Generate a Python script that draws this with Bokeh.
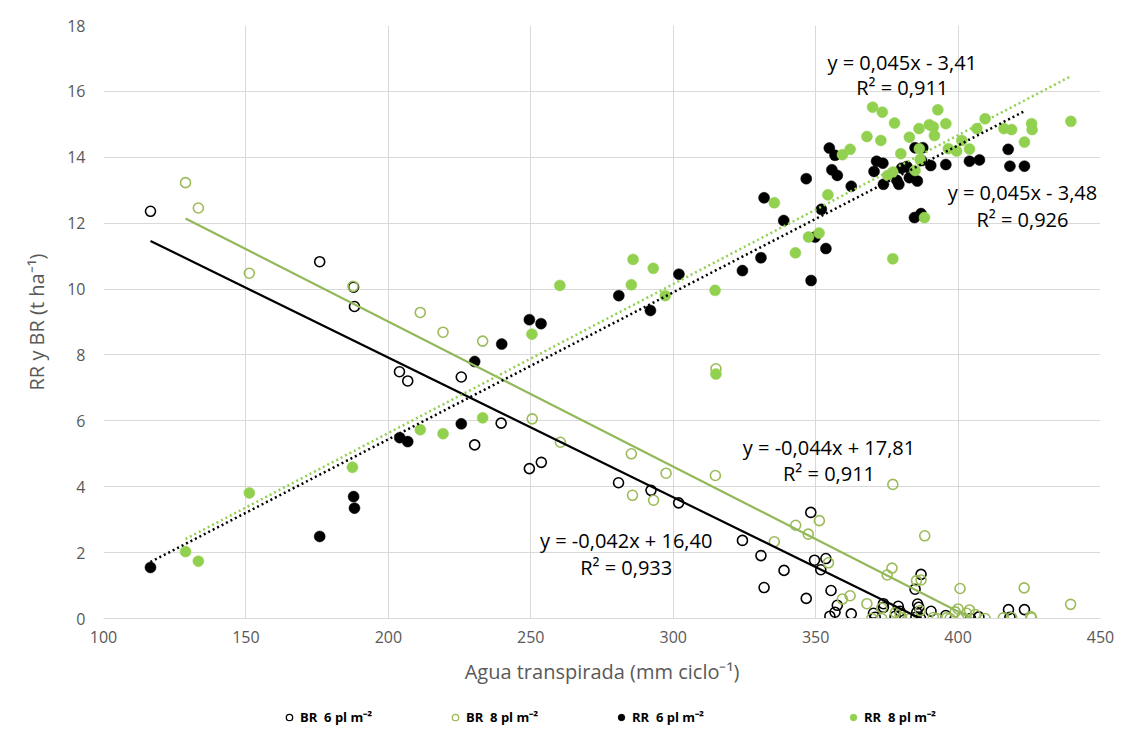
import numpy as np
from bokeh.plotting import figure
from bokeh.layouts import column
from bokeh.models import FixedTicker, Label, Legend, LegendItem, Range1d
from bokeh.embed import file_html
from bokeh.resources import INLINE

# ---------------- data ----------------
br6_x = [116.5, 175.9, 187.8, 188.1, 203.9, 206.8, 225.6, 230.3, 239.6, 249.5, 253.7, 280.8, 292.2, 301.9,
         324.3, 330.8, 331.9, 338.9, 346.7, 348.3, 349.6, 351.8, 353.6, 355.4, 357.6, 356.8, 355.0, 362.5,
         370.3, 370.9, 373.8, 373.8, 377.9, 379.0, 379.6, 384.9, 387.0, 385.8, 386.2, 385.5, 385.2, 386.8,
         390.5, 395.7, 404.4, 407.3, 417.7, 423.3, 418.2]
br6_y = [12.36, 10.83, 10.06, 9.47, 7.49, 7.21, 7.33, 5.27, 5.93, 4.55, 4.74, 4.12, 3.89, 3.51,
         2.37, 1.91, 0.94, 1.46, 0.61, 3.22, 1.77, 1.48, 1.82, 0.85, 0.40, 0.19, 0.07, 0.14,
         0.16, 0.04, 0.45, 0.34, 0.07, 0.37, 0.22, 0.89, 1.34, 0.44, 0.34, 0.19, 0.04, 0.00,
         0.22, 0.09, 0.00, 0.05, 0.27, 0.27, 0.04]

br8_x = [128.8, 133.3, 151.2, 187.6, 211.2, 219.2, 233.1, 250.5, 260.4, 285.3, 297.5, 314.8, 285.7, 293.1,
         315.0, 335.5, 343.0, 347.4, 351.3, 354.5, 377.1, 388.3, 376.8, 375.1, 385.4, 387.0, 400.7, 423.2,
         439.5, 362.1, 359.4, 368.0, 373.2, 378.0, 379.6, 386.7, 400.0, 404.0, 399.0, 403.0, 406.0, 369.7,
         373.2, 380.2, 383.2, 391.3, 392.5, 396.0, 397.2, 401.3, 409.5, 415.9, 418.8, 425.8, 425.5]
br8_y = [13.23, 12.46, 10.48, 10.08, 9.29, 8.69, 8.42, 6.06, 5.35, 5.00, 4.41, 4.34, 3.74, 3.59,
         7.58, 2.33, 2.83, 2.56, 2.97, 1.69, 4.07, 2.51, 1.53, 1.32, 1.15, 1.17, 0.91, 0.93,
         0.43, 0.69, 0.59, 0.45, 0.32, 0.18, 0.14, 0.24, 0.29, 0.26, 0.20, 0.16, 0.12, 0.00,
         0.00, 0.02, 0.00, 0.03, 0.00, 0.02, 0.00, 0.03, 0.00, 0.02, 0.03, 0.02, 0.06]

rr6_x = [116.5, 175.9, 187.8, 188.1, 204.0, 206.8, 225.6, 230.3, 239.8, 249.5, 253.6, 280.9, 292.0, 302.0,
         324.3, 330.8, 338.8, 331.9, 346.7, 348.4, 349.8, 353.6, 352.0, 354.8, 356.8, 355.7, 357.6, 362.5,
         370.5, 371.4, 373.6, 373.8, 378.5, 379.2, 380.2, 382.0, 384.9, 387.6, 382.9, 385.7, 387.2, 390.4,
         395.7, 404.0, 407.5, 384.7, 387.0, 417.6, 418.2, 423.3]
rr6_y = [1.55, 2.49, 3.70, 3.35, 5.49, 5.37, 5.91, 7.80, 8.33, 9.07, 8.95, 9.80, 9.35, 10.45,
         10.56, 10.95, 12.08, 12.77, 13.35, 10.26, 11.58, 11.23, 12.42, 14.28, 14.06, 13.62, 13.45, 13.12,
         13.57, 13.88, 13.82, 13.18, 13.30, 13.18, 13.67, 13.72, 14.29, 14.29, 13.38, 13.28, 13.90, 13.75,
         13.78, 13.88, 13.92, 12.17, 12.29, 14.24, 13.73, 13.73]

rr8_x = [128.8, 133.3, 151.2, 187.4, 211.2, 219.2, 233.1, 250.4, 260.2, 285.9, 285.3, 293.0, 297.2, 314.7,
         315.0, 335.5, 342.9, 347.5, 351.2, 354.3, 359.4, 362.1, 368.0, 370.0, 373.4, 372.9, 377.7, 379.9,
         382.9, 386.3, 389.9, 391.3, 392.9, 391.7, 395.7, 386.7, 386.4, 384.9, 375.3, 377.1, 388.2, 377.1,
         396.6, 399.5, 401.3, 404.0, 406.6, 409.5, 416.1, 418.8, 425.8, 426.0, 423.3, 439.6]
rr8_y = [2.03, 1.74, 3.81, 4.59, 5.73, 5.61, 6.09, 8.63, 10.11, 10.90, 10.13, 10.63, 9.80, 9.96,
         7.42, 12.62, 11.10, 11.58, 11.70, 12.86, 14.08, 14.24, 14.63, 15.52, 15.37, 14.51, 15.04, 14.11,
         14.61, 14.87, 14.99, 14.92, 15.44, 14.66, 15.02, 13.93, 14.26, 13.60, 13.45, 13.55, 12.17, 10.92,
         14.26, 14.19, 14.51, 14.25, 14.87, 15.17, 14.87, 14.84, 15.02, 14.84, 14.46, 15.09]

# linear trendlines (unrounded coefficients; printed rounded on the chart)
trend_slope = [-0.0424, -0.044, 0.0446, 0.0452]
trend_intercept = [16.40, 17.81, -3.48, -3.41]
trend_text = ["y = -0,042x + 16,40", "y = -0,044x + 17,81", "y = 0,045x - 3,48", "y = 0,045x - 3,41"]
r2_text = ["R² = 0,933", "R² = 0,911", "R² = 0,926", "R² = 0,911"]
# label anchor (data coordinates) for each equation / R² pair
eq_x = [283.5, 354.7, 422.6, 380.4]
eq_y = [2.37, 5.19, 12.94, 16.89]
r2_y = [1.55, 4.39, 12.11, 16.11]

legend_labels = ["BR  6 pl m⁻²", "BR  8 pl m⁻²", "RR  6 pl m⁻²", "RR  8 pl m⁻²"]
x_ticks = [100, 150, 200, 250, 300, 350, 400, 450]
y_ticks = [0, 2, 4, 6, 8, 10, 12, 14, 16, 18]

GREEN_FILL = "#92D050"
GREEN_LINE = "#9BBB59"
GREEN_TREND = "#92B85A"
TXT = "Open Sans"

p = figure(width=1131, height=690, x_range=Range1d(100, 450), y_range=Range1d(0, 18),
           output_backend="svg", toolbar_location=None,
           min_border_left=103, min_border_right=31, min_border_top=25, min_border_bottom=72)
p.outline_line_color = None
p.background_fill_color = "white"
p.border_fill_color = "white"

p.xaxis.ticker = FixedTicker(ticks=x_ticks)
p.yaxis.ticker = FixedTicker(ticks=y_ticks)
for ax in (p.xaxis[0], p.yaxis[0]):
    ax.major_tick_line_color = None
    ax.minor_tick_line_color = None
    ax.major_label_text_font = TXT
    ax.major_label_text_font_size = "16px"
    ax.major_label_text_color = "#595959"
    ax.axis_label_text_font = TXT
    ax.axis_label_text_font_size = "20px"
    ax.axis_label_text_font_style = "normal"
    ax.axis_label_text_color = "#595959"
p.xaxis.axis_line_color = "#D9D9D9"
p.yaxis.axis_line_color = None
p.xaxis.axis_label = "Agua transpirada (mm ciclo⁻¹)"
p.yaxis.axis_label = "RR y BR (t ha⁻¹)"
p.xaxis.major_label_standoff = 6
p.yaxis.major_label_standoff = 12
p.xaxis.axis_label_standoff = 12
p.yaxis.axis_label_standoff = 14

p.xgrid.grid_line_color = "#D9D9D9"
p.ygrid.grid_line_color = "#D9D9D9"
p.xgrid.grid_line_width = 1
p.ygrid.grid_line_width = 1

p.scatter(br6_x, br6_y, marker="circle", size=10, fill_color=None, line_color="black", line_width=1.6)
p.scatter(br8_x, br8_y, marker="circle", size=10, fill_color=None, line_color=GREEN_LINE, line_width=1.6)
p.scatter(rr6_x, rr6_y, marker="circle", size=11, fill_color="black", line_color="black", line_width=0.5)
p.scatter(rr8_x, rr8_y, marker="circle", size=11, fill_color=GREEN_FILL, line_color=GREEN_FILL, line_width=0.5)

series_x = [br6_x, br8_x, rr6_x, rr8_x]
styles = [dict(line_color="black", line_width=2.2),
          dict(line_color=GREEN_TREND, line_width=2.2),
          dict(line_color="black", line_width=2.5, line_dash="2 3"),
          dict(line_color=GREEN_FILL, line_width=2.5, line_dash="2 3")]
for sx, m, b, st in zip(series_x, trend_slope, trend_intercept, styles):
    xs = np.array([min(sx), max(sx)])
    p.line(xs, m * xs + b, **st)

for t, r, x, y1, y2 in zip(trend_text, r2_text, eq_x, eq_y, r2_y):
    for txt, yy in ((t, y1), (r, y2)):
        p.add_layout(Label(x=x, y=yy, text=txt, text_align="center", text_baseline="middle",
                           text_font=TXT, text_font_size="20px", text_color="black"))

# ---------------- legend strip (its own small figure below the chart) ----------------
lf = figure(width=1131, height=49, x_range=Range1d(0, 1), y_range=Range1d(0, 1),
            output_backend="svg", toolbar_location=None, min_border=0)
lf.axis.visible = False
lf.grid.visible = False
lf.outline_line_color = None
lf.border_fill_color = "white"
# proxy renderers for the legend swatches (one point placed outside the visible range)
hidden = dict(x=[-9], y=[-9], marker="circle", size=7)
d_br6 = lf.scatter(fill_color=None, line_color="black", line_width=1.3, **hidden)
d_br8 = lf.scatter(fill_color=None, line_color=GREEN_LINE, line_width=1.3, **hidden)
d_rr6 = lf.scatter(fill_color="black", line_color="black", **hidden)
d_rr8 = lf.scatter(fill_color=GREEN_FILL, line_color=GREEN_FILL, **hidden)

leg_common = dict(orientation="horizontal", glyph_width=16, glyph_height=16, label_standoff=3,
                  spacing=0, label_text_font=TXT, label_text_font_size="13px",
                  label_text_font_style="bold", label_text_color="black",
                  border_line_color=None, background_fill_alpha=0, padding=4, margin=0)
leg1 = Legend(items=[LegendItem(label=legend_labels[i], renderers=[r]) for i, r in
                     enumerate([d_br6, d_br8, d_rr6])],
              location=(178, 13), label_width=147, **leg_common)
leg2 = Legend(items=[LegendItem(label=legend_labels[3], renderers=[d_rr8])],
              location=(742, 13), **leg_common)
lf.add_layout(leg1)
lf.add_layout(leg2)

layout = column(p, lf, spacing=0)

open("out.html", "w").write(file_html(layout, INLINE))
